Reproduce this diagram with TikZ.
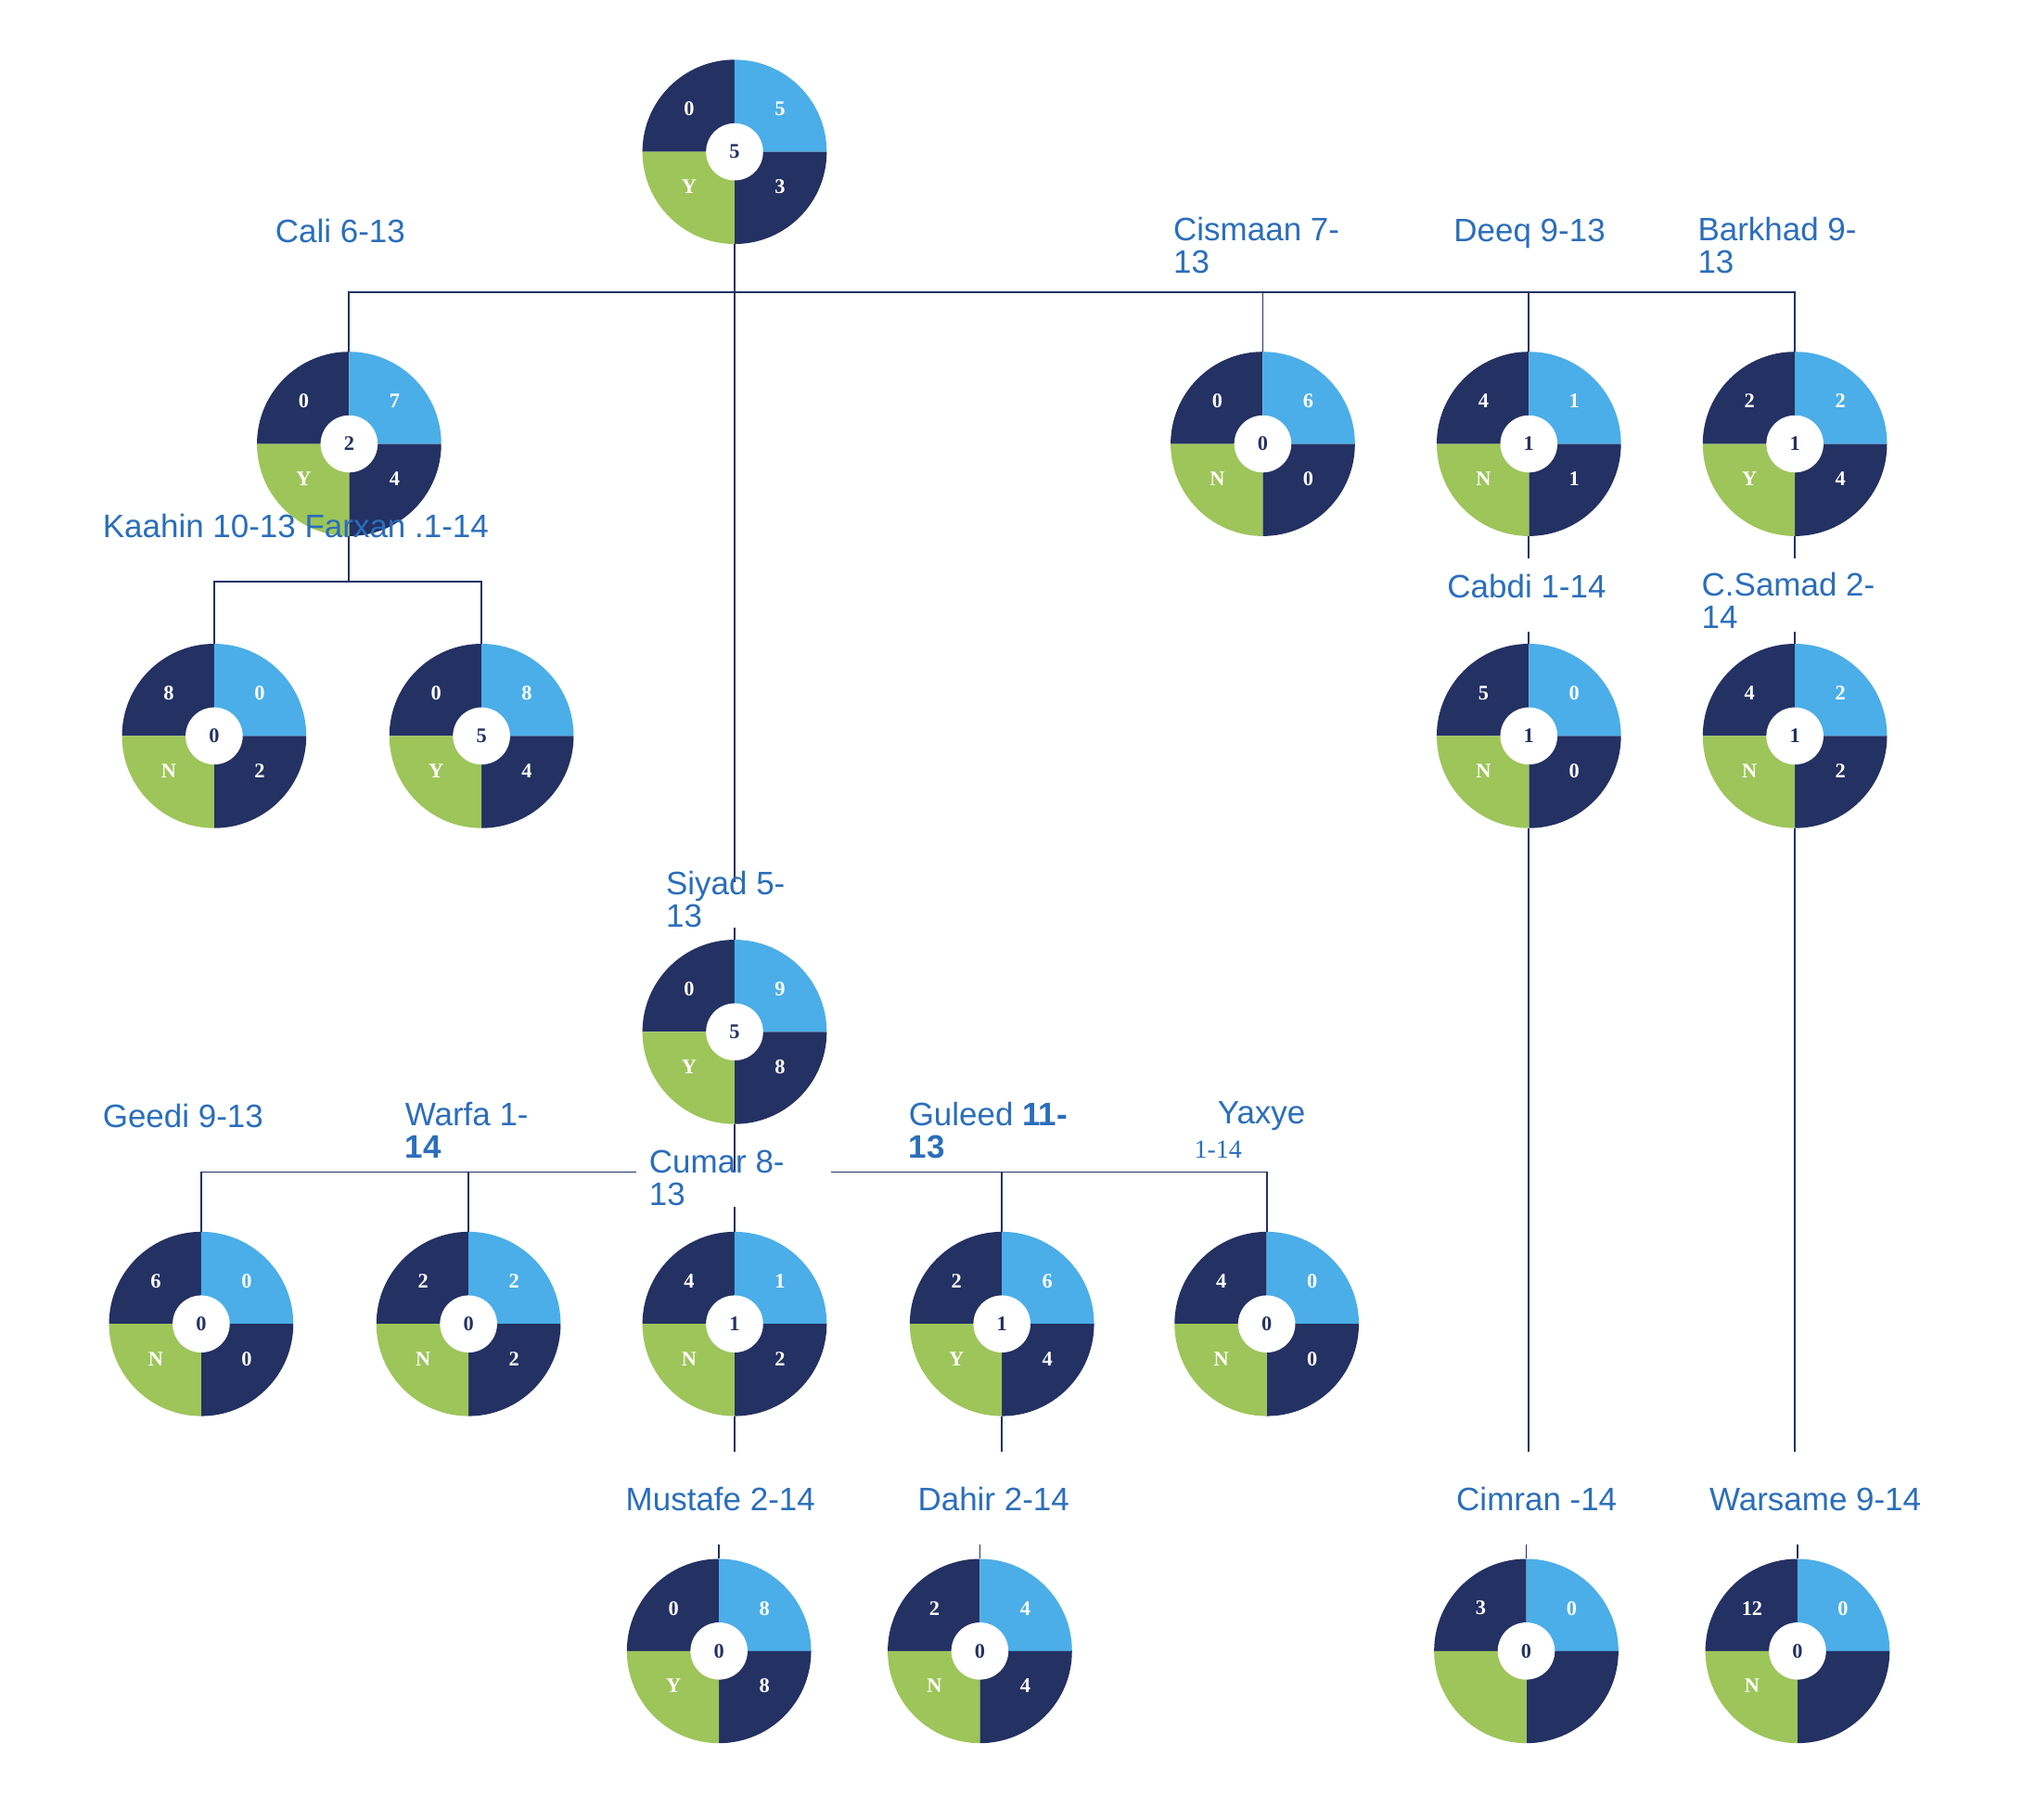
\documentclass[tikz,border=0pt]{standalone}
\usepackage{fontspec}
\setmainfont{Liberation Serif}
\newfontfamily\lab{Liberation Sans}
\begin{document}
\definecolor{navy}{HTML}{233163}
\definecolor{lblue}{HTML}{4BAEE8}
\definecolor{grn}{HTML}{9DC55A}
\definecolor{tblue}{HTML}{2A6EBB}
\begin{tikzpicture}[x=1pt,y=1pt,
 num/.style={text=white,font=\fontsize{16}{16}\selectfont\bfseries,inner sep=0},
 cnum/.style={text=navy,font=\fontsize{16}{16}\selectfont\bfseries,inner sep=0},
 lbl/.style={text=tblue,font=\lab\fontsize{25}{25}\selectfont,inner sep=0,align=left},
 ln/.style={navy,line width=1.3pt}]
\useasboundingbox (0,0) rectangle (1568,-1402);
\newcommand\pie[8]{%
\begin{scope}[shift={(#2,-#3)}]
\fill[navy] (0,0) -- (90:71) arc(90:180:71) -- cycle;
\fill[lblue] (0,0) -- (0:71) arc(0:90:71) -- cycle;
\fill[navy] (0,0) -- (-90:71) arc(-90:0:71) -- cycle;
\fill[grn] (0,0) -- (180:71) arc(180:270:71) -- cycle;
\fill[white] (0,0) circle(22);
\node[num] at (-35,33) {#4};
\node[num] at (35,33) {#5};
\node[num] at (35,-27) {#6};
\node[num] at (-35,-27) {#7};
\node[cnum] at (0,0) {#8};
\end{scope}
\node[circle,minimum size=142pt,inner sep=0] (#1) at (#2,-#3) {};}
% circles
\pie{root}{566}{117}{0}{5}{3}{Y}{5}
\pie{cali}{269}{342}{0}{7}{4}{Y}{2}
\pie{cismaan}{973}{342}{0}{6}{0}{N}{0}
\pie{deeq}{1178}{342}{4}{1}{1}{N}{1}
\pie{barkhad}{1383}{342}{2}{2}{4}{Y}{1}
\pie{kaahin}{165}{567}{8}{0}{2}{N}{0}
\pie{farxan}{371}{567}{0}{8}{4}{Y}{5}
\pie{cabdi}{1178}{567}{5}{0}{0}{N}{1}
\pie{csamad}{1383}{567}{4}{2}{2}{N}{1}
\pie{siyad}{566}{795}{0}{9}{8}{Y}{5}
\pie{geedi}{155}{1020}{6}{0}{0}{N}{0}
\pie{warfa}{361}{1020}{2}{2}{2}{N}{0}
\pie{cumar}{566}{1020}{4}{1}{2}{N}{1}
\pie{guleed}{772}{1020}{2}{6}{4}{Y}{1}
\pie{yaxye}{976}{1020}{4}{0}{0}{N}{0}
\pie{mustafe}{554}{1272}{0}{8}{8}{Y}{0}
\pie{dahir}{755}{1272}{2}{4}{4}{N}{0}
\pie{cimran}{1176}{1272}{3}{0}{}{}{0}
\pie{warsame}{1385}{1272}{12}{0}{}{N}{0}
% connectors
\coordinate (b1) at (566,-225);
\draw[ln] (root.south) -- (b1);
\draw[ln] (cali.north) |- (b1) -| (barkhad.north);
\draw[ln] (cismaan.north) -- (cismaan.north|-b1);
\draw[ln] (deeq.north) -- (deeq.north|-b1);
\coordinate (s1) at (566,-680);
\draw[ln] (b1) -- (s1);
\draw[ln] (siyad.north) -- ++(0,9);
\coordinate (b2) at (269,-448);
\draw[ln] (cali.south) -- (b2);
\draw[ln] (kaahin.north) |- (b2) -| (farxan.north);
\draw[ln] (deeq.south) -- ++(0,-17);
\draw[ln] (cabdi.north) -- ++(0,9);
\draw[ln] (barkhad.south) -- ++(0,-17);
\draw[ln] (csamad.north) -- ++(0,9);
\draw[ln] (cabdi.south) -- ++(0,-480);
\draw[ln] (cimran.north) -- ++(0,11);
\draw[ln] (csamad.south) -- ++(0,-480);
\draw[ln] (warsame.north) -- ++(0,11);
\coordinate (b3) at (566,-903);
\coordinate (g1) at (490,-903);
\coordinate (g2) at (640,-903);
\draw[ln] (siyad.south) -- (b3);
\draw[ln] (geedi.north) |- (g1);
\draw[ln] (warfa.north) -- (warfa.north|-b3);
\draw[ln] (g2) -| (yaxye.north);
\draw[ln] (guleed.north) -- (guleed.north|-b3);
\draw[ln] (cumar.north) -- ++(0,19);
\draw[ln] (cumar.south) -- ++(0,-27);
\draw[ln] (mustafe.north) -- ++(0,11);
\draw[ln] (guleed.south) -- ++(0,-27);
\draw[ln] (dahir.north) -- ++(0,11);
% labels
\node[lbl,anchor=west] at (212,-178) {Cali 6-13};
\node[lbl,anchor=north west] at (904,-167) {Cismaan 7-\\13};
\node[lbl,anchor=west] at (1120,-180) {Deeq 9-13};
\node[lbl,anchor=north west] at (1308,-167) {Barkhad 9-\\13};
\node[lbl,anchor=west] at (79,-405) {Kaahin 10-13 Farxan .1-14};
\node[lbl,anchor=west] at (1115,-452) {Cabdi 1-14};
\node[lbl,anchor=north west] at (1311,-441) {C.Samad 2-\\14};
\node[lbl,anchor=north west] at (513,-671) {Siyad 5-\\13};
\node[lbl,anchor=west] at (79,-860) {Geedi 9-13};
\node[lbl,anchor=north west] at (312,-849) {Warfa 1-\\\textbf{14}};
\node[lbl,anchor=north west] at (500,-886) {Cumar 8-\\13};
\node[lbl,anchor=north west] at (700,-849) {Guleed \textbf{11-}\\\textbf{13}};
\node[lbl,anchor=west] at (938,-860) {Yaxye};
\node[text=tblue,font=\fontsize{20}{20}\selectfont,anchor=west,inner sep=0] at (920,-886) {1-14};
\node[lbl,anchor=west] at (482,-1155) {Mustafe 2-14};
\node[lbl,anchor=west] at (707,-1155) {Dahir 2-14};
\node[lbl,anchor=west] at (1122,-1155) {Cimran -14};
\node[lbl,anchor=west] at (1317,-1155) {Warsame 9-14};
\end{tikzpicture}
\end{document}
